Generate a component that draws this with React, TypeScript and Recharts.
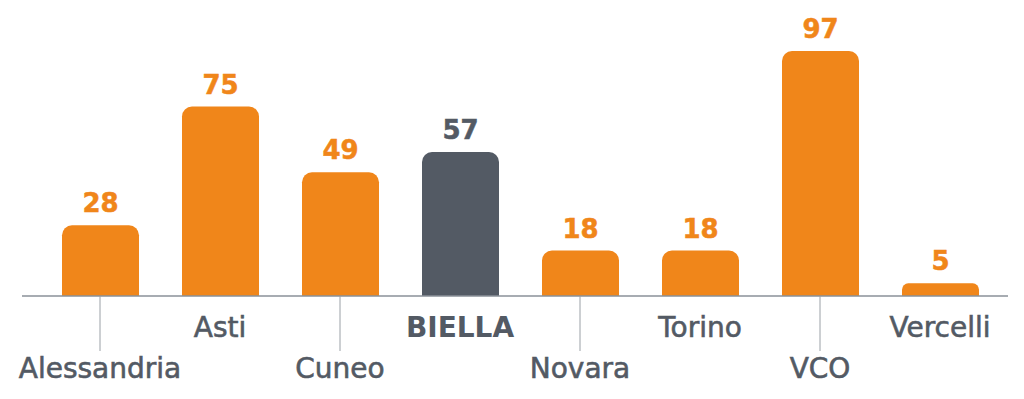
import { Bar, BarChart, Cell, LabelList, XAxis, YAxis } from "recharts"

const provinces = ["Alessandria", "Asti", "Cuneo", "BIELLA", "Novara", "Torino", "VCO", "Vercelli"]
const values = [28, 75, 49, 57, 18, 18, 97, 5]
const highlighted = "BIELLA"

const orange = "#F0861A"
const slate = "#535A64"
const font = "'DejaVu Sans', sans-serif"

const data = provinces.map((name, i) => ({ name, value: values[i] }))

const ProvinceTick = (props: any) => {
  const { x, y, payload, index } = props
  const low = index % 2 === 0
  const bold = payload.value === highlighted
  return (
    <g>
      {low && (
        <line x1={x} x2={x} y1={y} y2={y + 55} stroke="#9AA0A6" strokeWidth={1} />
      )}
      <text
        x={x}
        y={low ? y + 82 : y + 41}
        textAnchor="middle"
        fill={slate}
        stroke={slate}
        strokeWidth={bold ? 0 : 0.6}
        fontFamily={font}
        fontSize={28}
        fontWeight={bold ? 700 : 400}
      >
        {payload.value}
      </text>
    </g>
  )
}

const ValueLabel = (props: any) => {
  const { x, y, width, value, index } = props
  const color = provinces[index] === highlighted ? slate : orange
  return (
    <text
      x={x + width / 2}
      y={y - 13}
      textAnchor="middle"
      fill={color}
      stroke={color}
      strokeWidth={0.5}
      fontFamily={font}
      fontSize={26}
      fontWeight={700}
    >
      {value}
    </text>
  )
}

export default function App() {
  return (
    <div style={{ position: "absolute", left: 0, top: 0, background: "#fff" }}>
      <BarChart
        width={1024}
        height={399}
        data={data}
        margin={{ top: 43.4, right: 16, bottom: 0, left: 22 }}
      >
        <YAxis hide domain={[0, 100]} />
        <XAxis
          dataKey="name"
          height={103}
          interval={0}
          padding={{ left: 18, right: 8 }}
          axisLine={{ stroke: "#8A9098", strokeWidth: 1.5 }}
          tickLine={false}
          tickSize={0}
          tickMargin={0}
          tick={<ProvinceTick />}
        />
        <Bar dataKey="value" barSize={77} radius={[10, 10, 0, 0]} isAnimationActive={false}>
          {data.map(d => (
            <Cell key={d.name} fill={d.name === highlighted ? slate : orange} />
          ))}
          <LabelList dataKey="value" content={<ValueLabel />} />
        </Bar>
      </BarChart>
    </div>
  )
}
